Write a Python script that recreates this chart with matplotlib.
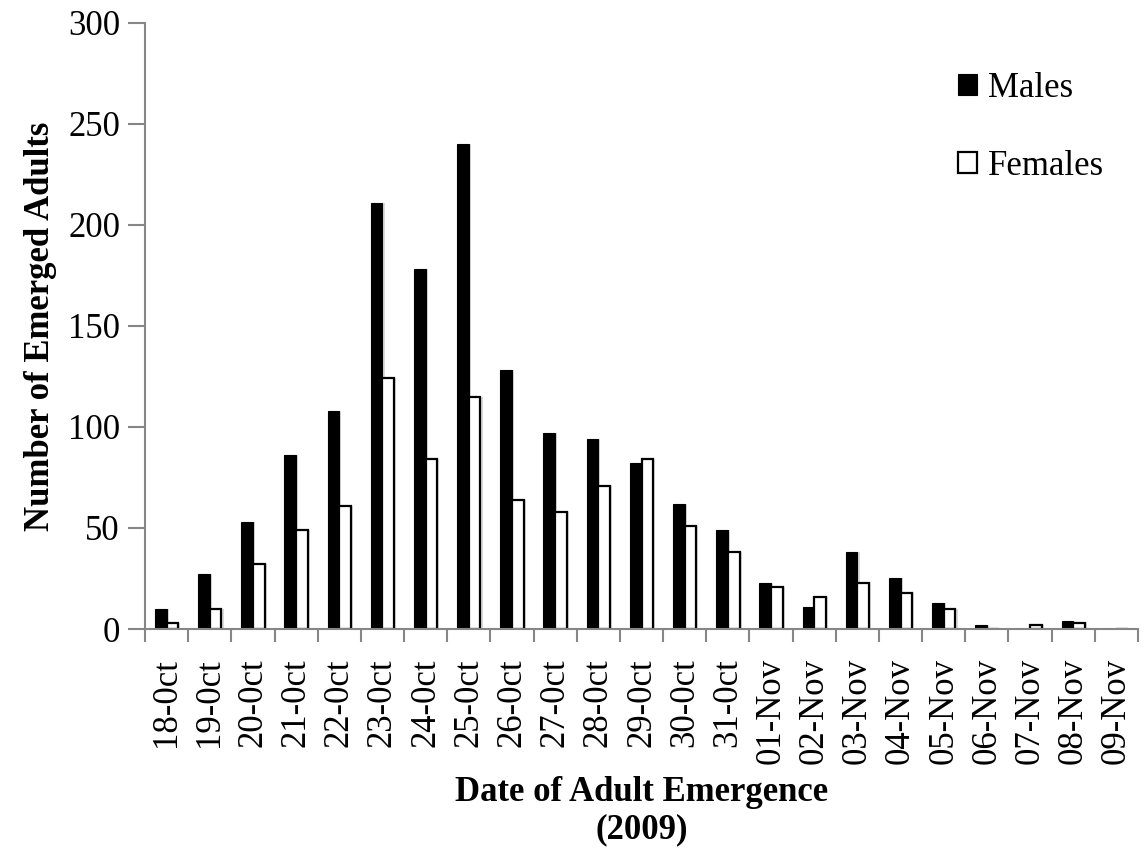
import numpy as np
import matplotlib
matplotlib.use("Agg")
import matplotlib.pyplot as plt

# data
dates = ["18-0ct", "19-0ct", "20-0ct", "21-0ct", "22-0ct", "23-0ct", "24-0ct",
         "25-0ct", "26-0ct", "27-0ct", "28-0ct", "29-0ct", "30-0ct", "31-0ct",
         "01-Nov", "02-Nov", "03-Nov", "04-Nov", "05-Nov", "06-Nov", "07-Nov",
         "08-Nov", "09-Nov"]
males = [10, 27, 53, 86, 108, 211, 178, 240, 128, 97, 94, 82, 62, 49,
         23, 11, 38, 25, 13, 2, 0, 4, 0]
females = [3, 10, 32, 49, 61, 124, 84, 115, 64, 58, 71, 84, 51, 38,
           21, 16, 23, 18, 10, 0, 2, 3, 0]

plt.rcParams["font.family"] = ["Liberation Serif", "DejaVu Serif"]
FS = 25

fig = plt.figure(figsize=(11.45, 8.5), dpi=100)
ax = fig.add_axes([145 / 1145, 1 - 629 / 850, (1138 - 145) / 1145, (629 - 22.7) / 850])

x = np.arange(len(dates))
w = 0.27
# soft shadow like the spreadsheet original
ax.bar(x - w / 2 + 0.05, males, width=w, color="#d9d9d9", linewidth=0, zorder=2)
ax.bar(x + w / 2 + 0.05, females, width=w, color="#d9d9d9", linewidth=0, zorder=2)
ax.bar(x - w / 2, males, width=w, color="black", edgecolor="black",
       linewidth=0.8, label="Males", zorder=3)
ax.bar(x + w / 2, females, width=w, color="white", edgecolor="black",
       linewidth=1.6, label="Females", zorder=3)

ax.set_xlim(-0.5, len(dates) - 0.5)
ax.set_ylim(0, 300)
ax.set_yticks(np.arange(0, 301, 50))

grey = "#868686"
for s in ["top", "right"]:
    ax.spines[s].set_visible(False)
for s in ["left", "bottom"]:
    ax.spines[s].set_color(grey)
    ax.spines[s].set_linewidth(1.5)
    ax.spines[s].set_zorder(4)

# category ticks sit between the groups
ax.set_xticks(np.arange(-0.5, len(dates), 1.0))
ax.set_xticklabels([])
ax.set_xticks(x, minor=True)
ax.set_xticklabels(dates, minor=True, rotation=90, fontsize=FS)
ax.tick_params(axis="x", which="major", length=9, width=1.5, color=grey)
ax.tick_params(axis="x", which="minor", length=0, pad=21)
ax.tick_params(axis="y", length=12, width=1.5, color=grey, labelsize=FS, pad=6)

ax.set_ylabel("Number of Emerged Adults", fontsize=FS, fontweight="bold", labelpad=8)
ax.set_xlabel("Date of Adult Emergence\n(2009)", fontsize=FS, fontweight="bold",
              labelpad=8)

fig.legend(loc="upper left", bbox_to_anchor=(958 / 1145, 1 - 72 / 850),
           frameon=False, fontsize=FS, borderpad=0, borderaxespad=0,
           handlelength=0.55, handleheight=0.55, handletextpad=0.3,
           labelspacing=1.3)

fig.savefig("out.png", dpi=100)
